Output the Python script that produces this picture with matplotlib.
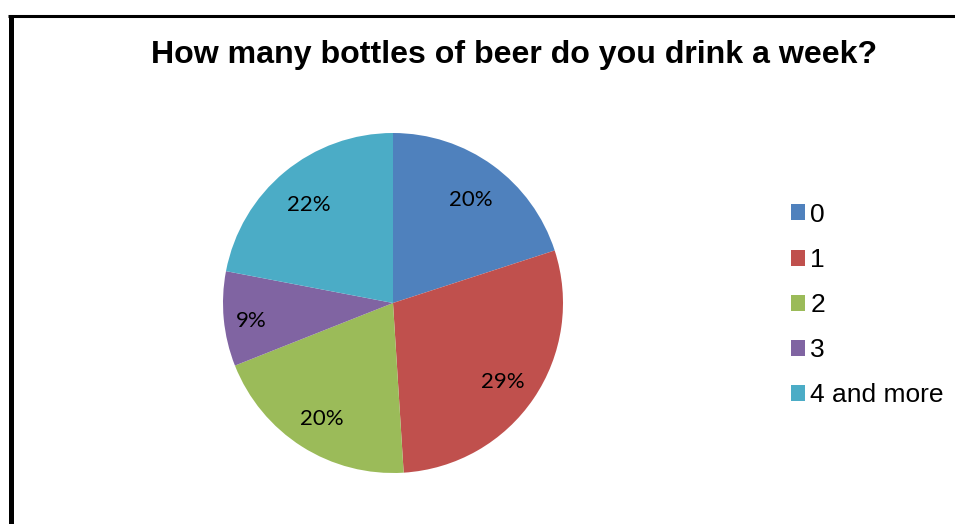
import matplotlib
matplotlib.use("Agg")
import matplotlib.pyplot as plt
from matplotlib.patches import Patch
from matplotlib.lines import Line2D
import numpy as np

title = "How many bottles of beer do you drink a week?"
categories = ["0", "1", "2", "3", "4 and more"]
values = [20, 29, 20, 9, 22]
colors = ["#4F81BD", "#C0504D", "#9BBB59", "#8064A2", "#4BACC6"]

W, H = 955, 524
fig = plt.figure(figsize=(W / 100, H / 100), dpi=100)
fig.patch.set_facecolor("white")

cx, cy, r = 393, 303, 170
ax = fig.add_axes([(cx - r) / W, (H - cy - r) / H, 2 * r / W, 2 * r / H])
wedges, texts, autotexts = ax.pie(
    values, colors=colors, startangle=90, counterclock=False,
    autopct=lambda p: f"{p:.0f}%", pctdistance=0.78,
    textprops=dict(family="Lato", fontsize=16, color="black"),
    wedgeprops=dict(linewidth=0),
)
for w, t, v in zip(wedges, autotexts, values):
    ang = np.deg2rad((w.theta1 + w.theta2) / 2)
    d = 0.84 if v < 10 else 0.78
    t.set_position((d * np.cos(ang), d * np.sin(ang) - 0.024))
ax.set_xlim(-1, 1)
ax.set_ylim(-1, 1)
ax.set_aspect("equal")
ax.axis("off")

fig.text(514 / W, 1 - 55 / H, title, ha="center", va="center",
         family="Liberation Sans", fontweight="bold", fontsize=23.1)

handles = [Patch(facecolor=c, edgecolor="none") for c in colors]
fig.legend(handles, categories, loc="center left",
           bbox_to_anchor=(780 / W, 1 - 305 / H), frameon=False,
           prop=dict(family="Liberation Sans", size=19),
           handlelength=0.55, handleheight=0.55, handletextpad=0.2,
           labelspacing=0.8, borderaxespad=0)

# chart-area border (left and top visible)
fig.add_artist(Line2D([10.5 / W, 10.5 / W], [0, 1 - 15 / H], color="black",
                      linewidth=3.6, transform=fig.transFigure, solid_capstyle="butt"))
fig.add_artist(Line2D([8 / W, 1], [1 - 15.5 / H, 1 - 15.5 / H], color="black",
                      linewidth=2.2, transform=fig.transFigure, solid_capstyle="butt"))

fig.savefig("out.png", dpi=100, facecolor="white")
